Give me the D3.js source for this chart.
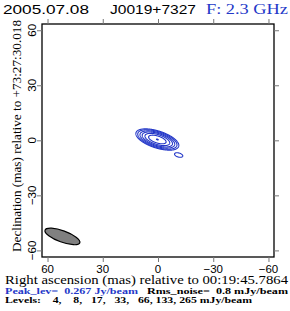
<!DOCTYPE html>
<html><head><meta charset="utf-8">
<script src="https://cdn.jsdelivr.net/npm/d3@7/dist/d3.min.js"></script>
<style>body{margin:0;background:#fff}svg{display:block}text{white-space:pre}</style></head>
<body><svg id="c" width="290" height="311"></svg>
<script>
// ---- data ----
const xTicks = [60, 30, 0, -30, -60];
const yTicks = [60, 30, 0, -30, -60];
const levels = [4, 8, 17, 33, 66, 133, 265];          // mJy/beam
// Gaussian model components (RA/Dec offsets in mas, peak mJy/beam, sigmas in mas, angle in deg)
const compRA     = [0.4, -11.2];
const compDec    = [0.5, -8.0];
const compPeak   = [267, 7];
const compSigMaj = [4.2, 2.15];
const compSigMin = [1.6, 1.03];
const compAng    = [18, 15];
// restoring beam
const beamRA = 51.9, beamDec = -52.4, beamMaj = 10.05, beamMin = 3.1, beamAng = 20;
const titleDate = "2005.07.08", titleSrc = "J0019+7327", titleFreq = "F: 2.3 GHz";
const xLabel = "Right ascension (mas) relative to 00:19:45.7864";
const yLabel = "Declination (mas) relative to +73:27:30.018";
const peakText = "Peak_lev=  0.267 Jy/beam";
const rmsText = "Rms_noise=  0.8 mJy/beam";
const levText = "Levels:    4,    8,   17,   33,   66, 133, 265 mJy/beam";

// ---- layout ----
const svg = d3.select("#c");
const L = 42, R = 274, T = 24, B = 257;
const x = d3.scaleLinear().domain([63, -63]).range([L, R]);
const y = d3.scaleLinear().domain([-63.6, 63.4]).range([B, T]);
const blue = "#2438c8";

// ---- contours ----
const step = 0.1, raMax = 22, raMin = -26, decMax = 16, decMin = -20;
const nx = Math.round((raMax - raMin) / step) + 1, ny = Math.round((decMax - decMin) / step) + 1;
const vals = new Float64Array(nx * ny);
for (let j = 0; j < ny; j++) {
  const dec = decMax - j * step;
  for (let i = 0; i < nx; i++) {
    const ra = raMax - i * step;
    let s = 0;
    for (let k = 0; k < compRA.length; k++) {
      const u = -(ra - compRA[k]), v = -(dec - compDec[k]);
      const a = compAng[k] * Math.PI / 180;
      const p = u * Math.cos(a) + v * Math.sin(a);
      const q = -u * Math.sin(a) + v * Math.cos(a);
      s += compPeak[k] * Math.exp(-(p * p / (2 * compSigMaj[k] ** 2) + q * q / (2 * compSigMin[k] ** 2)));
    }
    vals[j * nx + i] = s;
  }
}
const cont = d3.contours().size([nx, ny]).thresholds(levels)(Array.from(vals));
const proj = d3.geoTransform({point(px, py) {
  this.stream.point(x(raMax - px * step), y(decMax - py * step));
}});
const path = d3.geoPath(proj);
svg.append("g").selectAll("path").data(cont).join("path")
  .attr("d", path).attr("fill", "none").attr("stroke", blue).attr("stroke-width", 1.1);

// ---- beam ----
svg.append("ellipse")
  .attr("cx", x(beamRA)).attr("cy", y(beamDec))
  .attr("rx", Math.abs(x(beamMaj) - x(0))).attr("ry", Math.abs(y(beamMin) - y(0)))
  .attr("transform", `rotate(${beamAng},${x(beamRA)},${y(beamDec)})`)
  .attr("fill", "#808080").attr("stroke", "#000").attr("stroke-width", 1.2);

// ---- frame & ticks ----
svg.append("rect").attr("x", L).attr("y", T).attr("width", R - L).attr("height", B - T)
  .attr("fill", "none").attr("stroke", "#000").attr("stroke-width", 1.3);
const tc = "#777", tl = 5;
svg.append("g").attr("transform", `translate(0,${B})`)
  .call(d3.axisBottom(x).tickValues(xTicks).tickSize(tl).tickFormat(""))
  .call(g => { g.select(".domain").remove(); g.selectAll("line").attr("stroke", tc); });
svg.append("g").attr("transform", `translate(0,${T})`)
  .call(d3.axisTop(x).tickValues(xTicks).tickSize(tl).tickFormat(""))
  .call(g => { g.select(".domain").remove(); g.selectAll("line").attr("stroke", tc); });
svg.append("g").attr("transform", `translate(${L},0)`)
  .call(d3.axisLeft(y).tickValues(yTicks).tickSize(tl).tickFormat(""))
  .call(g => { g.select(".domain").remove(); g.selectAll("line").attr("stroke", tc); });
svg.append("g").attr("transform", `translate(${R},0)`)
  .call(d3.axisRight(y).tickValues(yTicks).tickSize(tl).tickFormat(""))
  .call(g => { g.select(".domain").remove(); g.selectAll("line").attr("stroke", tc); });

const fmt = v => v < 0 ? "\u2212" + Math.abs(v) : String(v);
const sans = "'Liberation Sans', Arial, sans-serif";
const serif = "'Liberation Serif', 'Times New Roman', serif";
svg.append("g").selectAll("text").data(xTicks).join("text")
  .attr("x", d => x(d)).attr("y", 272.5).attr("text-anchor", "middle")
  .attr("font-family", sans).attr("font-size", 11.5).text(fmt);
svg.append("g").selectAll("text").data(yTicks).join("text")
  .attr("transform", d => `translate(35.5,${y(d)}) rotate(-90)`).attr("text-anchor", "middle")
  .attr("font-family", sans).attr("font-size", 11.5).text(fmt);

// ---- titles ----
svg.append("text").attr("x", 3).attr("y", 13.5).attr("font-family", sans).attr("font-size", 13.5)
  .attr("textLength", 86).attr("lengthAdjust", "spacingAndGlyphs").text(titleDate);
svg.append("text").attr("x", 110).attr("y", 13.5).attr("font-family", sans).attr("font-size", 13.5)
  .attr("textLength", 86).attr("lengthAdjust", "spacingAndGlyphs").text(titleSrc);
svg.append("text").attr("x", 206).attr("y", 13.5).attr("font-family", serif).attr("font-size", 14)
  .attr("fill", blue).attr("textLength", 82).attr("lengthAdjust", "spacingAndGlyphs").text(titleFreq);

svg.append("text").attr("x", 5).attr("y", 284).attr("font-family", serif).attr("font-size", 11.5)
  .attr("textLength", 283).attr("lengthAdjust", "spacingAndGlyphs").text(xLabel);
svg.append("text").attr("transform", "translate(20.5,252) rotate(-90)")
  .attr("font-family", serif).attr("font-size", 13)
  .attr("textLength", 232).attr("lengthAdjust", "spacingAndGlyphs").text(yLabel);

svg.append("text").attr("x", 5).attr("y", 294).attr("font-family", serif).attr("font-size", 8)
  .attr("font-weight", "bold").attr("fill", blue)
  .attr("textLength", 133).attr("lengthAdjust", "spacingAndGlyphs").text(peakText);
svg.append("text").attr("x", 147).attr("y", 294).attr("font-family", serif).attr("font-size", 8)
  .attr("font-weight", "bold")
  .attr("textLength", 141).attr("lengthAdjust", "spacingAndGlyphs").text(rmsText);
svg.append("text").attr("x", 5).attr("y", 302.5).attr("font-family", serif).attr("font-size", 8)
  .attr("font-weight", "bold")
  .attr("textLength", 247).attr("lengthAdjust", "spacingAndGlyphs").text(levText);
</script></body></html>
